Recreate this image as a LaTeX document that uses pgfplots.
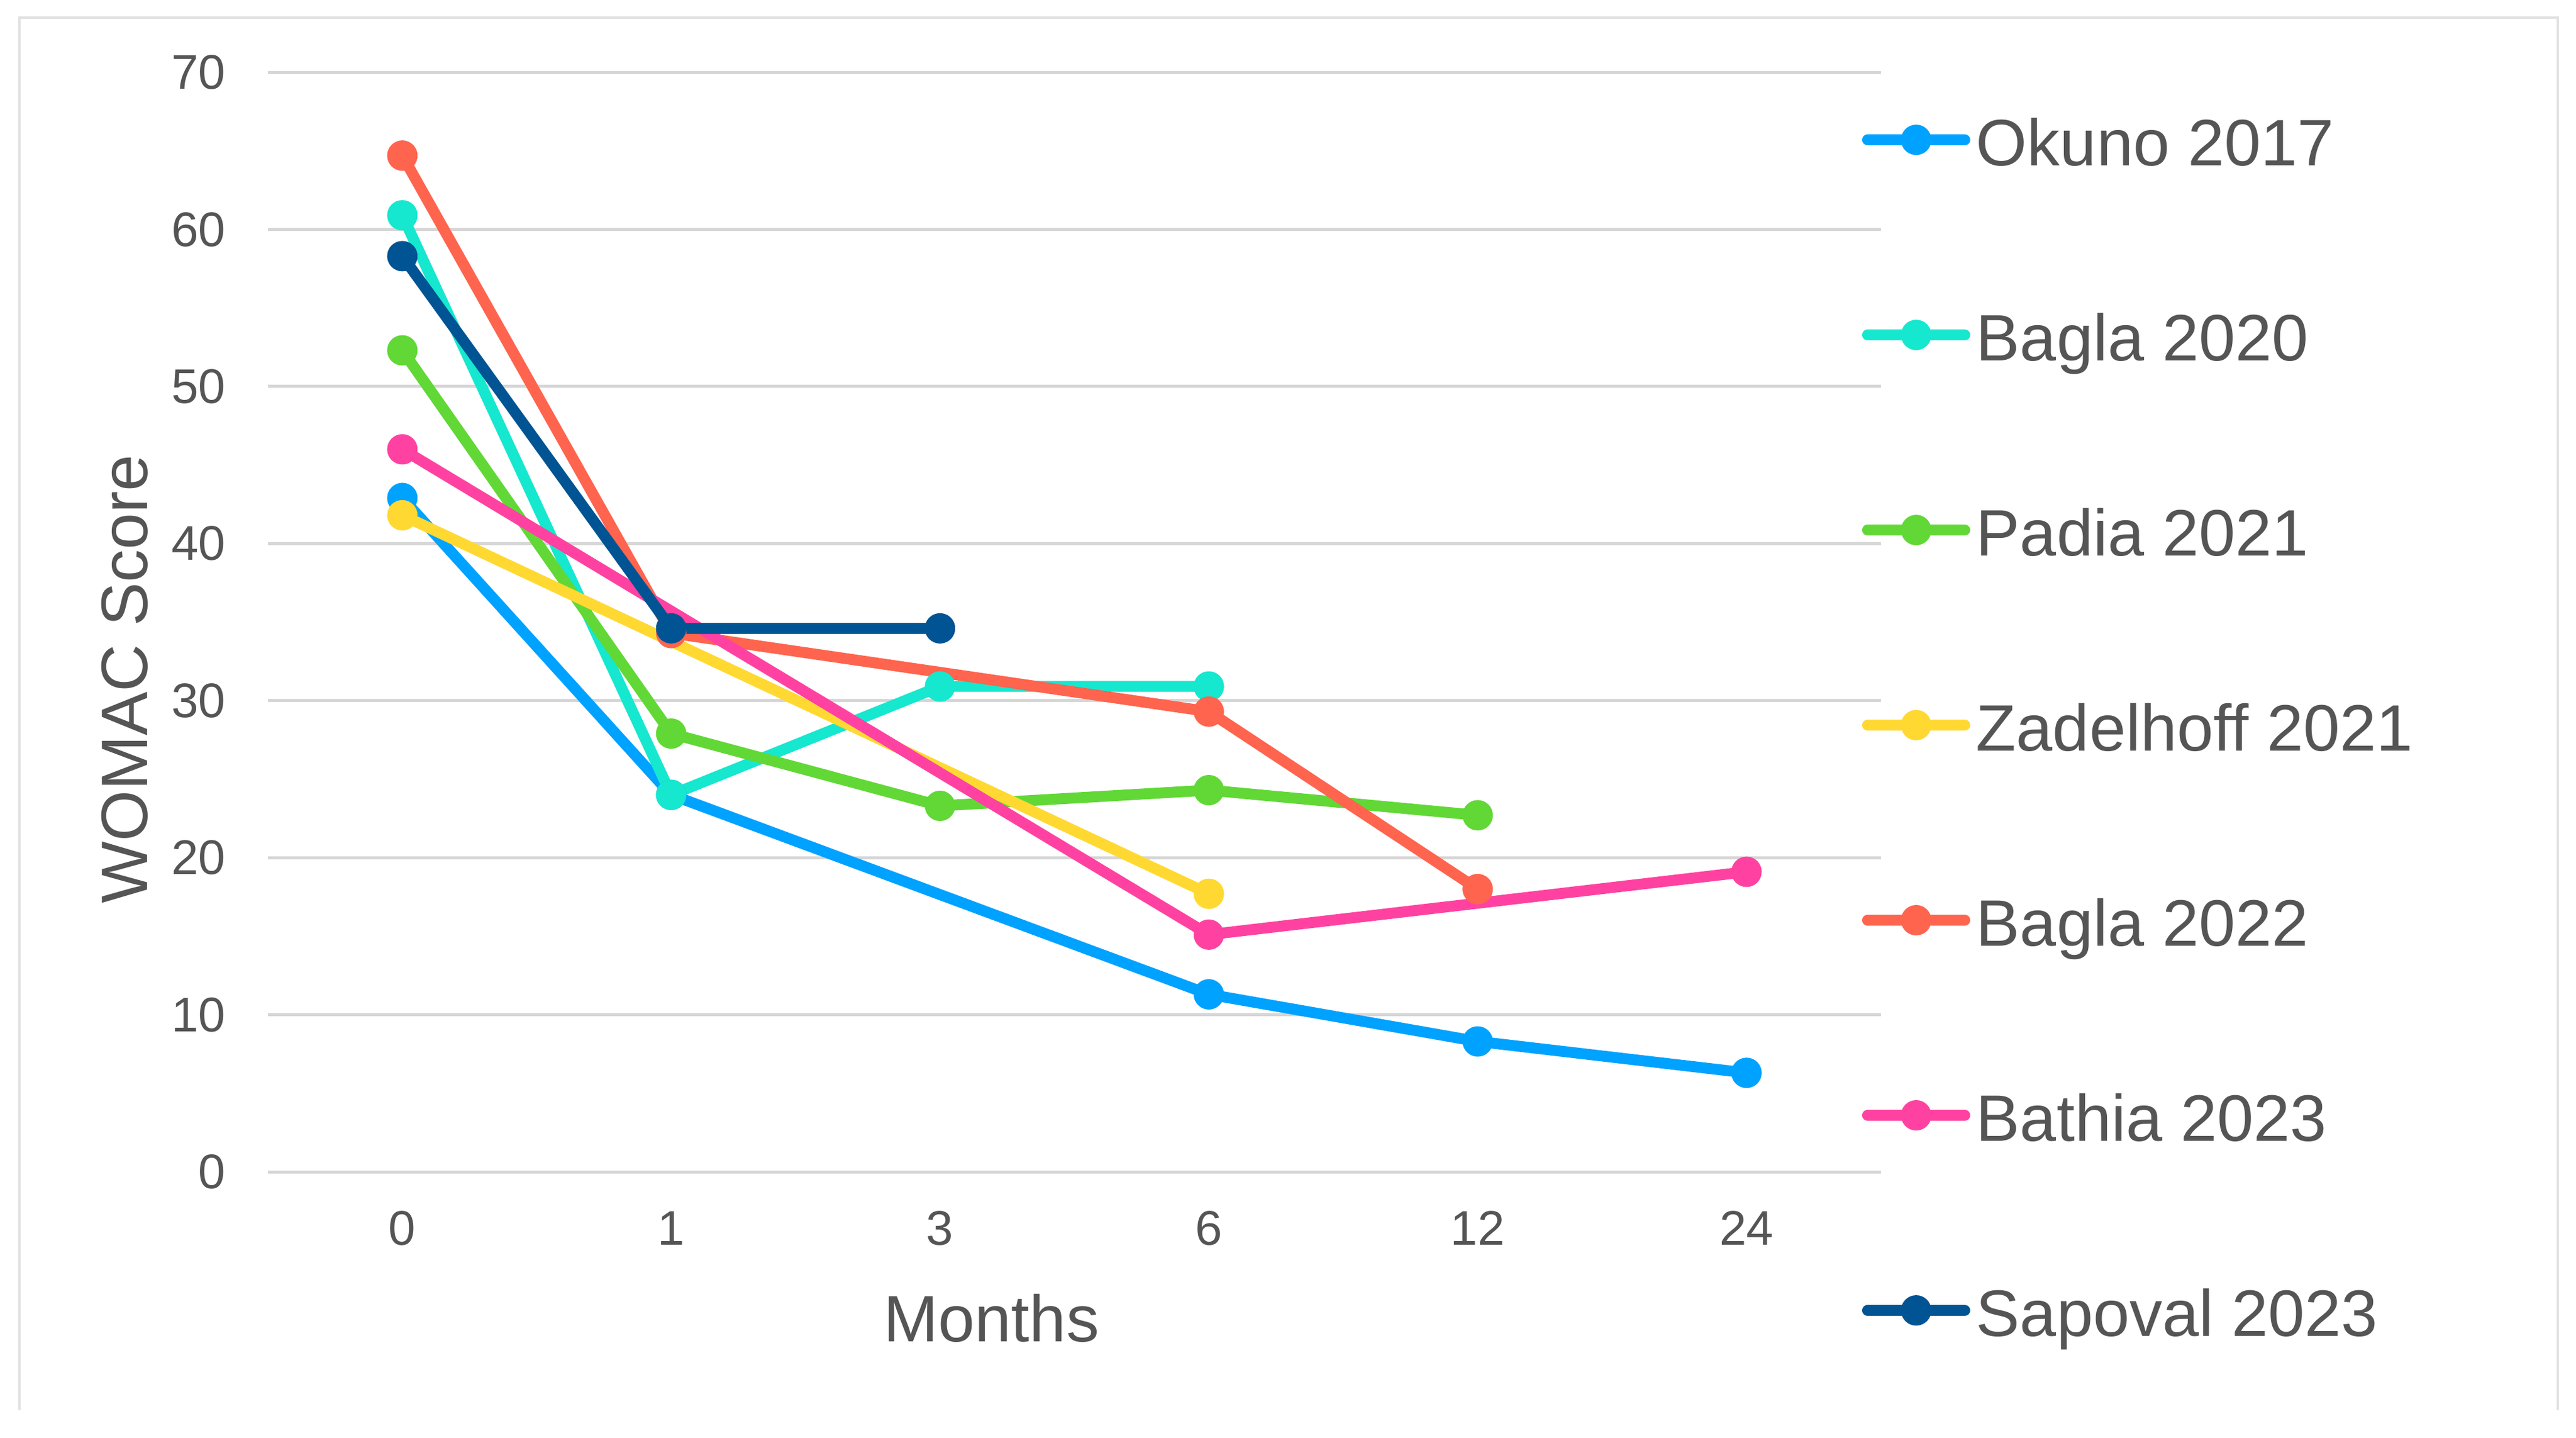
\documentclass[border=0pt]{standalone}
\usepackage{fontspec}
\setmainfont{Liberation Sans}
\usepackage{pgfplots}
\pgfplotsset{compat=1.18}
\usetikzlibrary{calc}

\definecolor{cOkuno}{HTML}{00A2FF}
\definecolor{cBaglaA}{HTML}{16E7CF}
\definecolor{cPadia}{HTML}{61D836}
\definecolor{cZadel}{HTML}{FFD932}
\definecolor{cBaglaB}{HTML}{FF644E}
\definecolor{cBathia}{HTML}{FF42A1}
\definecolor{cSapoval}{HTML}{005493}
\definecolor{textgray}{HTML}{555555}
\definecolor{gridgray}{HTML}{D6D6D6}
\definecolor{framegray}{HTML}{E2E2E2}

\begin{document}
\begin{tikzpicture}
\useasboundingbox (-44.1pt,-43.7pt) rectangle (379.9pt,192.8pt);
% light frame round the chart (left, top, right)
\draw[framegray, line width=0.4pt] (-40.9pt,-39.2pt) -- (-40.9pt,189.9pt) -- (376.9pt,189.9pt) -- (376.9pt,-39.2pt);

\begin{axis}[
    at={(0pt,0pt)}, anchor=south west,
    scale only axis,
    width=265.5pt, height=180.9pt,
    xmin=-0.5, xmax=5.5,
    ymin=0, ymax=70,
    xtick={0,1,2,3,4,5},
    xticklabels={0,1,3,6,12,24},
    ytick={0,10,...,70},
    ymajorgrids,
    grid style={line width=0.5pt, gridgray},
    axis line style={draw=none},
    major tick length=0pt,
    clip=false,
    /pgf/number format/assume math mode=true,
    tick label style={font=\fontsize{8}{9}\selectfont, text=textgray},
    xticklabel style={anchor=base, inner sep=0pt, yshift=-12pt},
    yticklabel style={anchor=east, inner sep=0pt, xshift=-6.8pt},
    xlabel={Months},
    ylabel={WOMAC Score},
    label style={font=\fontsize{10.8}{12}\selectfont, text=textgray},
    xlabel style={at={($(rel axis cs:0.4486,0)+(0pt,-24.1pt)$)}, anchor=center, inner sep=0pt},
    ylabel style={at={($(rel axis cs:0,0.448)+(-23.6pt,0pt)$)}, anchor=center, inner sep=0pt},
    every axis plot/.append style={line width=1.8pt, line join=round,
        mark=*, mark size=2.3pt, mark options={line width=0.4pt}},
    legend image code/.code={\draw[mark repeat=2, mark phase=2, line cap=round]
        plot coordinates {(0pt,0pt) (8pt,0pt) (16pt,0pt)};},
    legend cell align=left,
    legend style={at={(rel axis cs:1,1)}, anchor=north west,
        xshift=-3.1pt, yshift=-6.9pt,
        draw=none, fill=none, inner sep=0pt, outer sep=0pt,
        row sep=23.7pt, column sep=1.0pt,
        font=\fontsize{10.8}{13}\selectfont, text=textgray,
        nodes={inner sep=0pt, text height=8.4pt, text depth=0pt}},
]
\addplot[cOkuno] coordinates {(0,42.9) (1,24.0) (3,11.3) (4,8.3) (5,6.3)};
\addlegendentry{Okuno 2017}
\addplot[cBaglaA] coordinates {(0,60.9) (1,24.0) (2,30.9) (3,30.9)};
\addlegendentry{Bagla 2020}
\addplot[cPadia] coordinates {(0,52.3) (1,27.9) (2,23.3) (3,24.3) (4,22.7)};
\addlegendentry{Padia 2021}
\addplot[cZadel] coordinates {(0,41.8) (3,17.7)};
\addlegendentry{Zadelhoff 2021}
\addplot[cBaglaB] coordinates {(0,64.7) (1,34.3) (3,29.3) (4,18.0)};
\addlegendentry{Bagla 2022}
\addplot[cBathia] coordinates {(0,46.0) (3,15.1) (5,19.1)};
\addlegendentry{Bathia 2023}
\addplot[cSapoval] coordinates {(0,58.3) (1,34.6) (2,34.6)};
\addlegendentry{Sapoval 2023}
\end{axis}
\end{tikzpicture}
\end{document}
